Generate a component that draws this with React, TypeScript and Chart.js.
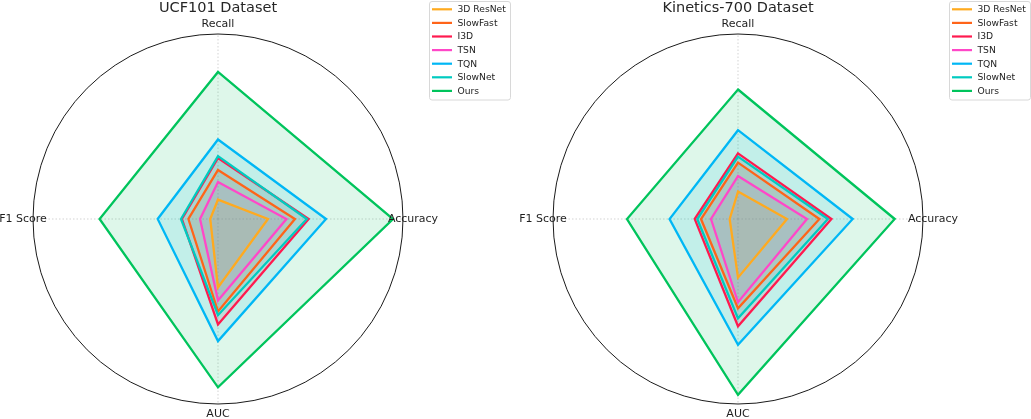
import { useEffect, useRef } from 'react';
import Chart, { type Plugin } from 'chart.js/auto';

// axes clockwise from the top
const AXES: string[] = ['Recall', 'Accuracy', 'AUC', 'F1 Score'];
const MODELS: string[] = ['3D ResNet', 'SlowFast', 'I3D', 'TSN', 'TQN', 'SlowNet', 'Ours'];
const COLORS: string[] = ['#FFAA1F', '#FF6419', '#FF1A4F', '#FF47C8', '#00B7F5', '#00CBC0', '#00C45C'];

// UCF101 scores (normalised radius), same order as AXES
const UCF_RESNET3D = [0.105, 0.27, 0.37, 0.042];
const UCF_SLOWFAST = [0.265, 0.416, 0.5, 0.16];
const UCF_I3D = [0.33, 0.49, 0.57, 0.195];
const UCF_TSN = [0.2, 0.37, 0.44, 0.097];
const UCF_TQN = [0.43, 0.584, 0.66, 0.326];
const UCF_SLOWNET = [0.34, 0.48, 0.52, 0.2];
const UCF_OURS = [0.795, 0.946, 0.91, 0.64];

// Kinetics-700 scores
const K700_RESNET3D = [0.148, 0.265, 0.317, 0.045];
const K700_SLOWFAST = [0.305, 0.44, 0.483, 0.2];
const K700_I3D = [0.355, 0.505, 0.58, 0.234];
const K700_TSN = [0.232, 0.373, 0.45, 0.146];
const K700_TQN = [0.48, 0.62, 0.68, 0.37];
const K700_SLOWNET = [0.337, 0.486, 0.537, 0.22];
const K700_OURS = [0.7, 0.847, 0.95, 0.6];

const UCF_SERIES = [UCF_RESNET3D, UCF_SLOWFAST, UCF_I3D, UCF_TSN, UCF_TQN, UCF_SLOWNET, UCF_OURS];
const K700_SERIES = [K700_RESNET3D, K700_SLOWFAST, K700_I3D, K700_TSN, K700_TQN, K700_SLOWNET, K700_OURS];

const FONT = 'DejaVu Sans';

function withAlpha(hex: string, a: number): string {
  const n = parseInt(hex.slice(1), 16);
  return `rgba(${(n >> 16) & 255}, ${(n >> 8) & 255}, ${n & 255}, ${a})`;
}

// axis labels centred just outside the circle, plus the boxed legend top right
const radarDecor: Plugin<'radar'> = {
  id: 'radarDecor',
  afterDraw(chart) {
    const scale: any = chart.scales.r;
    const ctx = chart.ctx;
    ctx.save();
    ctx.font = `11px "${FONT}"`;
    ctx.fillStyle = '#1e1e1e';
    ctx.textAlign = 'center';
    ctx.textBaseline = 'middle';
    (chart.data.labels as string[]).forEach((label, i) => {
      const p = scale.getPointPosition(i, scale.drawingArea + 10);
      ctx.fillText(label, p.x, p.y);
    });

    const bx = scale.xCenter + 211.5;
    const by = 1.5;
    ctx.beginPath();
    ctx.roundRect(bx, by, 81, 98.5, 2.5);
    ctx.fillStyle = 'rgba(255,255,255,0.85)';
    ctx.fill();
    ctx.strokeStyle = '#d8d8d8';
    ctx.lineWidth = 1;
    ctx.stroke();

    ctx.font = `9.2px "${FONT}"`;
    ctx.textAlign = 'left';
    chart.data.datasets.forEach((ds, i) => {
      const y = 9.3 + i * 13.6;
      ctx.strokeStyle = ds.borderColor as string;
      ctx.lineWidth = 2.2;
      ctx.beginPath();
      ctx.moveTo(bx + 2.5, y);
      ctx.lineTo(bx + 22.5, y);
      ctx.stroke();
      ctx.fillStyle = '#1e1e1e';
      ctx.fillText(ds.label as string, bx + 28, y + 0.5);
    });
    ctx.restore();
  },
};

function RadarPanel({ title, series }: { title: string; series: number[][] }) {
  const canvasRef = useRef<HTMLCanvasElement>(null);

  useEffect(() => {
    if (!canvasRef.current) return;
    const chart = new Chart(canvasRef.current, {
      type: 'radar',
      data: {
        labels: AXES,
        datasets: series.map((values, i) => ({
          label: MODELS[i],
          data: values,
          borderColor: COLORS[i],
          backgroundColor: withAlpha(COLORS[i], 0.13),
          borderWidth: 2.3,
          pointRadius: 0,
          fill: true,
          order: MODELS.length - i,
        })),
      },
      options: {
        animation: false,
        responsive: true,
        maintainAspectRatio: false,
        layout: { padding: { left: 33, right: 108, top: 0, bottom: 15 } },
        plugins: {
          legend: { display: false },
          tooltip: { enabled: false },
          // all fills first, so every outline stays on top
          filler: { drawTime: 'beforeDatasetsDraw' },
          title: {
            display: true,
            text: title,
            color: '#262626',
            font: { family: FONT, size: 14.5, weight: 'normal', lineHeight: 1.2 },
            padding: { top: 0, bottom: 16.6 },
          },
        },
        scales: {
          r: {
            min: 0,
            max: 1,
            ticks: { display: false, stepSize: 1 },
            pointLabels: { display: false },
            grid: { circular: true, color: '#1a1a1a', lineWidth: 1 },
            angleLines: { color: '#c8c8c8', lineWidth: 0.8, borderDash: [1.5, 2] },
          },
        },
      },
      plugins: [radarDecor],
    });
    return () => chart.destroy();
  }, [title, series]);

  return <canvas ref={canvasRef} />;
}

export default function App() {
  return (
    <div style={{ position: 'absolute', left: 0, top: 0, width: 1031, height: 419, overflow: 'hidden', background: '#fff' }}>
      <div style={{ position: 'absolute', left: 0, top: 0, width: 511, height: 419 }}>
        <RadarPanel title="UCF101 Dataset" series={UCF_SERIES} />
      </div>
      <div style={{ position: 'absolute', left: 520, top: 0, width: 511, height: 419 }}>
        <RadarPanel title="Kinetics-700 Dataset" series={K700_SERIES} />
      </div>
    </div>
  );
}
